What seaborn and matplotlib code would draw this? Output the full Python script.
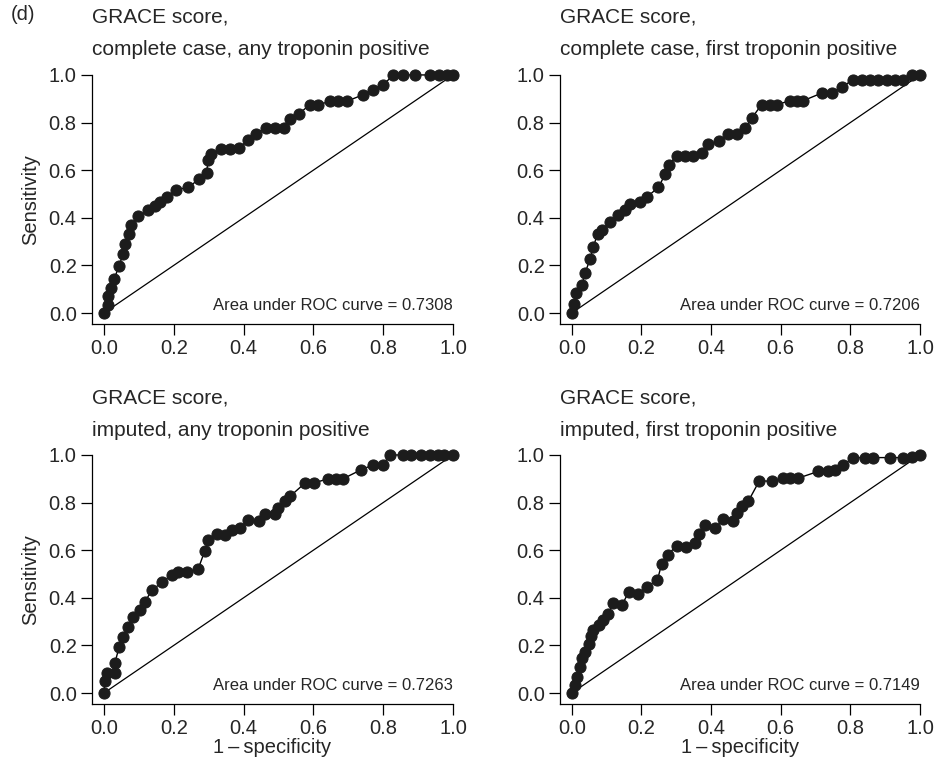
import seaborn as sns
import matplotlib.pyplot as plt

# ROC points (1 - specificity, sensitivity)
fpr_cc_any = [0, 0.012, 0.012, 0.019, 0.029, 0.044, 0.055, 0.060, 0.073, 0.079, 0.098, 0.127,
              0.146, 0.162, 0.180, 0.206, 0.242, 0.273, 0.294, 0.299, 0.308, 0.335, 0.361,
              0.388, 0.412, 0.436, 0.464, 0.490, 0.516, 0.533, 0.559, 0.589, 0.614, 0.648,
              0.671, 0.695, 0.743, 0.770, 0.800, 0.829, 0.858, 0.891, 0.934, 0.961, 0.982, 1.0]
tpr_cc_any = [0, 0.035, 0.07, 0.104, 0.142, 0.199, 0.25, 0.292, 0.333, 0.368, 0.406, 0.431,
              0.451, 0.465, 0.486, 0.517, 0.528, 0.563, 0.590, 0.642, 0.667, 0.688, 0.688,
              0.694, 0.725, 0.753, 0.778, 0.778, 0.778, 0.817, 0.836, 0.875, 0.875, 0.889,
              0.889, 0.889, 0.917, 0.938, 0.958, 1.0, 1.0, 1.0, 1.0, 1.0, 1.0, 1.0]

fpr_cc_first = [0, 0.007, 0.012, 0.029, 0.038, 0.053, 0.062, 0.074, 0.086, 0.110, 0.134, 0.153,
                0.167, 0.196, 0.217, 0.249, 0.268, 0.278, 0.301, 0.325, 0.349, 0.373, 0.392,
                0.424, 0.450, 0.474, 0.498, 0.517, 0.545, 0.569, 0.589, 0.627, 0.648, 0.665,
                0.718, 0.746, 0.775, 0.809, 0.833, 0.856, 0.880, 0.904, 0.928, 0.952, 0.976, 1.0]
tpr_cc_first = [0, 0.036, 0.083, 0.118, 0.167, 0.229, 0.278, 0.333, 0.347, 0.382, 0.410, 0.431,
                0.456, 0.465, 0.489, 0.528, 0.583, 0.622, 0.660, 0.660, 0.660, 0.674, 0.708,
                0.722, 0.750, 0.750, 0.778, 0.819, 0.875, 0.875, 0.875, 0.892, 0.892, 0.892,
                0.924, 0.924, 0.951, 0.979, 0.979, 0.979, 0.979, 0.979, 0.979, 0.979, 1.0, 1.0]

fpr_imp_any = [0, 0.003, 0.008, 0.031, 0.031, 0.044, 0.055, 0.070, 0.084, 0.103, 0.117, 0.137,
               0.166, 0.194, 0.213, 0.237, 0.270, 0.289, 0.299, 0.323, 0.347, 0.366, 0.390,
               0.414, 0.443, 0.462, 0.491, 0.500, 0.519, 0.533, 0.576, 0.601, 0.642, 0.666,
               0.685, 0.737, 0.771, 0.799, 0.819, 0.856, 0.880, 0.909, 0.933, 0.956, 0.975, 1.0]
tpr_imp_any = [0, 0.049, 0.086, 0.083, 0.125, 0.194, 0.236, 0.278, 0.319, 0.350, 0.382, 0.431,
               0.465, 0.497, 0.507, 0.507, 0.521, 0.597, 0.642, 0.667, 0.664, 0.683, 0.694,
               0.725, 0.722, 0.753, 0.750, 0.778, 0.806, 0.826, 0.882, 0.882, 0.900, 0.900,
               0.900, 0.938, 0.958, 0.958, 1.0, 1.0, 1.0, 1.0, 1.0, 1.0, 1.0, 1.0]

fpr_imp_first = [0, 0.010, 0.014, 0.024, 0.029, 0.038, 0.048, 0.055, 0.062, 0.077, 0.091, 0.105,
                 0.118, 0.144, 0.163, 0.191, 0.215, 0.246, 0.258, 0.275, 0.301, 0.328, 0.354,
                 0.364, 0.383, 0.412, 0.435, 0.464, 0.474, 0.488, 0.507, 0.539, 0.574, 0.608,
                 0.627, 0.651, 0.708, 0.737, 0.756, 0.778, 0.809, 0.842, 0.866, 0.914, 0.952,
                 0.976, 1.0]
tpr_imp_first = [0, 0.035, 0.069, 0.111, 0.146, 0.174, 0.208, 0.239, 0.264, 0.285, 0.306, 0.333,
                 0.378, 0.368, 0.424, 0.417, 0.447, 0.475, 0.542, 0.581, 0.618, 0.614, 0.632,
                 0.667, 0.706, 0.694, 0.729, 0.722, 0.757, 0.785, 0.806, 0.892, 0.889, 0.903,
                 0.903, 0.903, 0.931, 0.931, 0.938, 0.958, 0.989, 0.989, 0.989, 0.989, 0.989,
                 0.993, 1.0]

titles = ['GRACE score,\ncomplete case, any troponin positive',
          'GRACE score,\ncomplete case, first troponin positive',
          'GRACE score,\nimputed, any troponin positive',
          'GRACE score,\nimputed, first troponin positive']
auc = ['0.7308', '0.7206', '0.7263', '0.7149']
ticks = [0.0, 0.2, 0.4, 0.6, 0.8, 1.0]

sns.set_style('ticks')
plt.rcParams['font.family'] = ['Liberation Sans', 'DejaVu Sans']

fig = plt.figure(figsize=(9.4, 7.71), dpi=100)

curves = [(fpr_cc_any, tpr_cc_any), (fpr_cc_first, tpr_cc_first),
          (fpr_imp_any, tpr_imp_any), (fpr_imp_first, tpr_imp_first)]
rects = [[0.0979, 0.5798, 0.384, 0.323], [0.5957, 0.5798, 0.383, 0.323],
         [0.0979, 0.0869, 0.384, 0.323], [0.5957, 0.0869, 0.383, 0.323]]

for i, ((fx, ty), rect) in enumerate(zip(curves, rects)):
    ax = fig.add_axes(rect)
    ax.plot([0, 1], [0, 1], color='black', lw=0.9)
    sns.lineplot(x=fx, y=ty, ax=ax, estimator=None, sort=False, color='black', lw=1.0,
                 marker='o', markersize=8, markerfacecolor='#1c1c1c',
                 markeredgecolor='#1c1c1c')
    for ln in ax.lines:
        ln.set_clip_on(False)
    ax.set_xlim(-0.034, 1.0)
    ax.set_ylim(-0.046, 1.0)
    ax.set_xticks(ticks)
    ax.set_yticks(ticks)
    ax.set_xticklabels([f'{t:.1f}' for t in ticks])
    ax.set_yticklabels([f'{t:.1f}' for t in ticks])
    ax.tick_params(direction='out', length=8, width=0.9, labelsize=14.5, pad=3, color='black')
    for s in ['left', 'bottom']:
        ax.spines[s].set_linewidth(0.9)
        ax.spines[s].set_color('black')
    sns.despine(ax=ax)
    ax.set_title(titles[i], loc='left', fontsize=15, pad=14, linespacing=1.9)
    ax.text(1.0, 0.045, f'Area under ROC curve = {auc[i]}', ha='right', va='bottom',
            fontsize=12, transform=ax.transAxes)
    if i % 2 == 0:
        ax.set_ylabel('Sensitivity', fontsize=14.5, labelpad=6)
    if i >= 2:
        ax.set_xlabel('1\u2009\u2013\u2009specificity', fontsize=14.5, labelpad=0)

fig.text(0.011, 0.981, '(d)', fontsize=14.5, ha='left', va='center')

fig.savefig('out.png', dpi=100)
